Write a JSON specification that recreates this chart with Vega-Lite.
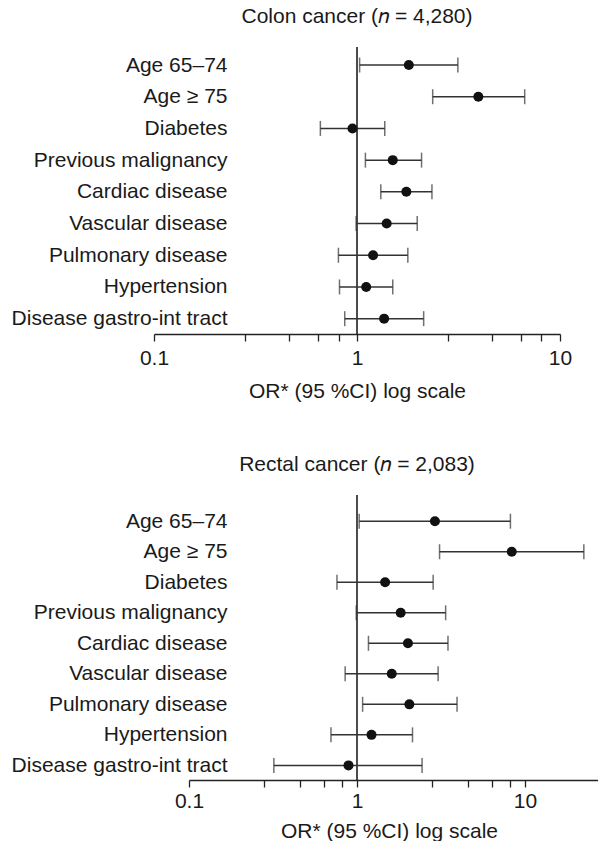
{
  "$schema": "https://vega.github.io/schema/vega-lite/v6.json",
  "padding": {"left": 11, "top": 6, "right": 0, "bottom": 0},
  "background": "white",
  "config": {
    "view": {"stroke": null},
    "font": "Liberation Sans",
    "title": {"fontSize": 21, "fontWeight": "normal", "color": "#1a1a1a", "font": "Liberation Sans"},
    "axis": {
      "labelFont": "Liberation Sans",
      "titleFont": "Liberation Sans",
      "labelFontSize": 21,
      "titleFontSize": 21,
      "titleFontWeight": "normal",
      "labelColor": "#1a1a1a",
      "titleColor": "#1a1a1a",
      "labelLimit": 0,
      "grid": false
    }
  },
  "datasets": {
    "colon": [
      {"factor": "Age 65–74", "or": 1.80, "lo": 1.03, "hi": 3.14},
      {"factor": "Age ≥ 75", "or": 3.96, "lo": 2.36, "hi": 6.70},
      {"factor": "Diabetes", "or": 0.95, "lo": 0.66, "hi": 1.37},
      {"factor": "Previous malignancy", "or": 1.50, "lo": 1.10, "hi": 2.08},
      {"factor": "Cardiac disease", "or": 1.75, "lo": 1.31, "hi": 2.34},
      {"factor": "Vascular disease", "or": 1.40, "lo": 0.99, "hi": 1.98},
      {"factor": "Pulmonary disease", "or": 1.20, "lo": 0.81, "hi": 1.78},
      {"factor": "Hypertension", "or": 1.11, "lo": 0.82, "hi": 1.50},
      {"factor": "Disease gastro-int tract", "or": 1.36, "lo": 0.87, "hi": 2.13}
    ],
    "rectal": [
      {"factor": "Age 65–74", "or": 2.91, "lo": 1.03, "hi": 8.19},
      {"factor": "Age ≥ 75", "or": 8.34, "lo": 3.10, "hi": 22.4},
      {"factor": "Diabetes", "or": 1.47, "lo": 0.76, "hi": 2.84},
      {"factor": "Previous malignancy", "or": 1.82, "lo": 0.99, "hi": 3.37},
      {"factor": "Cardiac disease", "or": 2.01, "lo": 1.17, "hi": 3.48},
      {"factor": "Vascular disease", "or": 1.61, "lo": 0.85, "hi": 3.04},
      {"factor": "Pulmonary disease", "or": 2.05, "lo": 1.08, "hi": 3.94},
      {"factor": "Hypertension", "or": 1.22, "lo": 0.70, "hi": 2.14},
      {"factor": "Disease gastro-int tract", "or": 0.89, "lo": 0.32, "hi": 2.44}
    ]
  },
  "concat": [
    {
      "width": 406,
      "height": 287,
      "title": {"text": "Colon cancer (𝑛 = 4,280)", "offset": 19},
      "data": {"name": "colon"},
      "layer": [
        {
          "data": {"values": [{}]},
          "mark": {"type": "rule", "color": "#111111", "strokeWidth": 1.5},
          "encoding": {
            "x": {
              "datum": 1,
              "type": "quantitative",
              "scale": {"type": "log", "domain": [0.1, 10], "nice": false},
              "axis": {
                "title": "OR* (95 %CI) log scale",
                "values": [0.1, 0.28, 0.46, 0.64, 0.815, 1, 2.8, 4.6, 6.4, 8.1, 10],
                "labelExpr": "datum.value == 0.1 ? '0.1' : datum.value == 1 ? '1' : datum.value == 10 ? '10' : ''",
                "labelFlush": false,
                "labelOverlap": false,
                "labelBound": false,
                "tickSize": 7,
                "tickColor": "#222222",
                "domainColor": "#222222",
                "tickWidth": 1.3,
                "domainWidth": 1.3,
                "labelPadding": 6,
                "titlePadding": 12
              }
            }
          }
        },
        {
          "mark": {"type": "rule", "color": "#333333", "strokeWidth": 1.5},
          "encoding": {
            "y": {
              "field": "factor",
              "type": "nominal",
              "sort": null,
              "scale": {"type": "point", "padding": 0.526, "align": 0.54},
              "axis": {"title": null, "domain": false, "ticks": false, "labelPadding": -73, "labelFontSize": 21}
            },
            "x": {"field": "lo", "type": "quantitative"},
            "x2": {"field": "hi"}
          }
        },
        {
          "mark": {"type": "tick", "color": "#333333", "thickness": 1.5, "size": 15},
          "encoding": {"y": {"field": "factor", "type": "nominal", "sort": null}, "x": {"field": "lo", "type": "quantitative"}}
        },
        {
          "mark": {"type": "tick", "color": "#333333", "thickness": 1.5, "size": 15},
          "encoding": {"y": {"field": "factor", "type": "nominal", "sort": null}, "x": {"field": "hi", "type": "quantitative"}}
        },
        {
          "mark": {"type": "circle", "color": "#111111", "opacity": 1, "size": 100},
          "encoding": {"y": {"field": "factor", "type": "nominal", "sort": null}, "x": {"field": "or", "type": "quantitative"}}
        }
      ]
    },
    {
      "width": 444,
      "height": 285,
      "title": {"text": "Rectal cancer (𝑛 = 2,083)", "offset": 19, "dx": -19},
      "data": {"name": "rectal"},
      "layer": [
        {
          "data": {"values": [{}]},
          "mark": {"type": "rule", "color": "#111111", "strokeWidth": 1.5},
          "encoding": {
            "x": {
              "datum": 1,
              "type": "quantitative",
              "scale": {"type": "log", "domain": [0.1, 27.2], "nice": false, "range": [35, 444]},
              "axis": {
                "title": "OR* (95 %CI) log scale",
                "titleX": 235,
                "values": [0.1, 0.28, 0.46, 0.64, 0.815, 1, 2.8, 4.6, 6.4, 8.1, 10],
                "labelExpr": "datum.value == 0.1 ? '0.1' : datum.value == 1 ? '1' : datum.value == 10 ? '10' : ''",
                "labelFlush": false,
                "labelOverlap": false,
                "labelBound": false,
                "tickSize": 7,
                "tickColor": "#222222",
                "domainColor": "#222222",
                "tickWidth": 1.3,
                "domainWidth": 1.3,
                "labelPadding": 3,
                "titlePadding": 9
              }
            }
          }
        },
        {
          "mark": {"type": "rule", "color": "#333333", "strokeWidth": 1.5},
          "encoding": {
            "y": {
              "field": "factor",
              "type": "nominal",
              "sort": null,
              "scale": {"type": "point", "padding": 0.669, "align": 0.642},
              "axis": {"title": null, "domain": false, "ticks": false, "labelPadding": -73, "labelFontSize": 21}
            },
            "x": {"field": "lo", "type": "quantitative"},
            "x2": {"field": "hi"}
          }
        },
        {
          "mark": {"type": "tick", "color": "#333333", "thickness": 1.5, "size": 15},
          "encoding": {"y": {"field": "factor", "type": "nominal", "sort": null}, "x": {"field": "lo", "type": "quantitative"}}
        },
        {
          "mark": {"type": "tick", "color": "#333333", "thickness": 1.5, "size": 15},
          "encoding": {"y": {"field": "factor", "type": "nominal", "sort": null}, "x": {"field": "hi", "type": "quantitative"}}
        },
        {
          "mark": {"type": "circle", "color": "#111111", "opacity": 1, "size": 100},
          "encoding": {"y": {"field": "factor", "type": "nominal", "sort": null}, "x": {"field": "or", "type": "quantitative"}}
        }
      ]
    }
  ],
  "columns": 1,
  "bounds": "full",
  "spacing": 53
}
